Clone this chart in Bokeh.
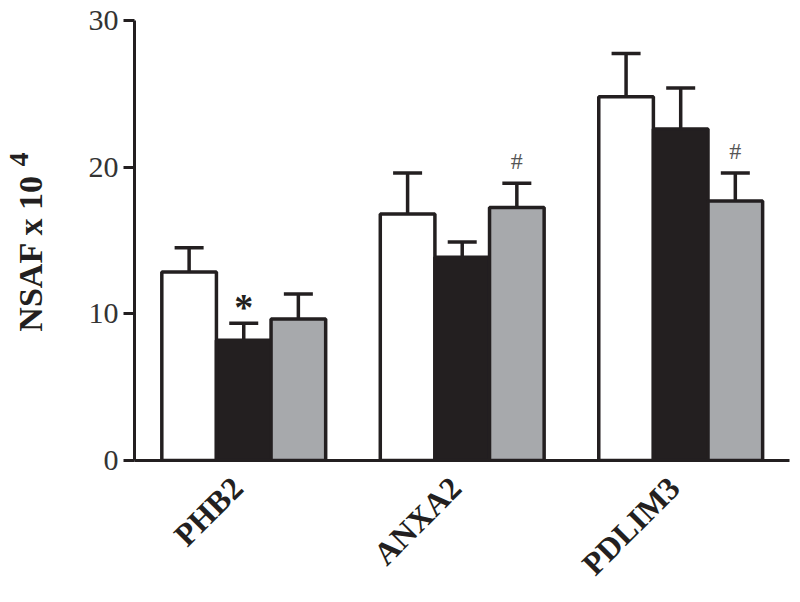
import math
from bokeh.plotting import figure
from bokeh.models import Whisker, TeeHead, ColumnDataSource, Range1d, FixedTicker, Title
from bokeh.core.properties import value
from bokeh.embed import file_html
from bokeh.resources import INLINE

# ---- data ----
categories = ["PHB2", "ANXA2", "PDLIM3"]
y_ticks = [0, 10, 20, 30]

mean_white = [12.85, 16.8, 24.8]
err_white = [1.65, 2.8, 2.95]

mean_black = [8.2, 13.85, 22.6]
err_black = [1.15, 1.05, 2.8]

mean_gray = [9.65, 17.25, 17.7]
err_gray = [1.7, 1.65, 1.9]

sig_black = ["*", "", ""]
sig_gray = ["", "#", "#"]

# ---- layout / style ----
FONT = "Liberation Serif"
EDGE = "#231f20"
series = [
    (mean_white, err_white, "#ffffff", -0.25),
    (mean_black, err_black, "#231f20", 0.0),
    (mean_gray, err_gray, "#a7a9ac", 0.25),
]
BAR_W = 0.25
H = 590

p = figure(
    frame_width=655, frame_height=440,
    min_border_left=134, min_border_right=3, min_border_top=20, min_border_bottom=H - 460,
    x_range=Range1d(-0.5, 2.498), y_range=Range1d(0, 30),
    output_backend="svg", toolbar_location=None,
)
p.outline_line_color = None
p.grid.visible = False
p.background_fill_color = "white"
p.border_fill_color = "white"

for means, errs, color, off in series:
    xs = [i + off for i in range(len(categories))]
    src = ColumnDataSource(dict(x=xs, top=means, upper=[m + e for m, e in zip(means, errs)]))
    p.vbar(x="x", top="top", bottom=0, width=BAR_W, source=src,
           fill_color=color, line_color=EDGE, line_width=3.5)
    p.add_layout(Whisker(source=src, base="x", lower="top", upper="upper",
                         dimension="height", line_color=EDGE, line_width=3.5,
                         upper_head=TeeHead(size=29, line_color=EDGE, line_width=3.5),
                         lower_head=None))

# significance marks
star_src = ColumnDataSource(dict(
    x=[i + 0.0 for i in range(len(categories))],
    y=[m + e + 1.1 for m, e in zip(mean_black, err_black)],
    t=sig_black))
p.text(x="x", y="y", text="t", source=star_src, text_align="center",
       text_baseline="alphabetic", text_font=value(FONT), text_font_style="bold",
       text_font_size="38px", text_color="#231f20")
hash_src = ColumnDataSource(dict(
    x=[i + 0.25 for i in range(len(categories))],
    y=[m + e + 1.5 for m, e in zip(mean_gray, err_gray)],
    t=sig_gray))
p.text(x="x", y="y", text="t", source=hash_src, text_align="center",
       text_baseline="alphabetic", text_font=value(FONT),
       text_font_size="24px", text_color="#555555")

# y axis
p.yaxis.ticker = FixedTicker(ticks=y_ticks)
p.yaxis.axis_line_width = 3
p.yaxis.axis_line_color = EDGE
p.yaxis.major_tick_line_width = 3
p.yaxis.major_tick_line_color = EDGE
p.yaxis.major_tick_out = 11
p.yaxis.major_tick_in = 0
p.yaxis.minor_tick_line_color = None
p.yaxis.major_label_text_font = FONT
p.yaxis.major_label_text_font_size = "30px"
p.yaxis.major_label_text_color = "#333333"
p.yaxis.major_label_standoff = 5
p.yaxis.axis_label = "NSAF x 10" + "\u00a0" * 3
p.yaxis.axis_label_text_font = FONT
p.yaxis.axis_label_text_font_style = "bold"
p.yaxis.axis_label_text_font_size = "34px"
p.yaxis.axis_label_text_color = "#231f20"
p.yaxis.axis_label_standoff = 37

# superscript exponent of the axis title, as a left-side title pulled in over the axis title
p.add_layout(Title(text="4", align="right", offset=132, standoff=-38,
                   vertical_align="bottom", text_font=FONT, text_font_style="bold",
                   text_font_size="28px", text_color="#231f20"), "left")

# x axis: category labels as rotated tick labels
LBL_SHIFT = -0.03
label_ticks = [i + LBL_SHIFT for i in range(len(categories))]
p.xaxis.ticker = FixedTicker(ticks=label_ticks)
p.xaxis.major_label_overrides = {t: c for t, c in zip(label_ticks, categories)}
p.xaxis.major_label_orientation = math.pi / 4
p.xaxis.axis_line_width = 3
p.xaxis.axis_line_color = EDGE
p.xaxis.major_tick_line_color = None
p.xaxis.major_tick_out = 0
p.xaxis.major_tick_in = 0
p.xaxis.minor_tick_line_color = None
p.xaxis.major_label_standoff = 22
p.xaxis.major_label_text_font = FONT
p.xaxis.major_label_text_font_style = "bold"
p.xaxis.major_label_text_font_size = "32px"
p.xaxis.major_label_text_color = "#231f20"

open("out.html", "w").write(file_html(p, INLINE))
